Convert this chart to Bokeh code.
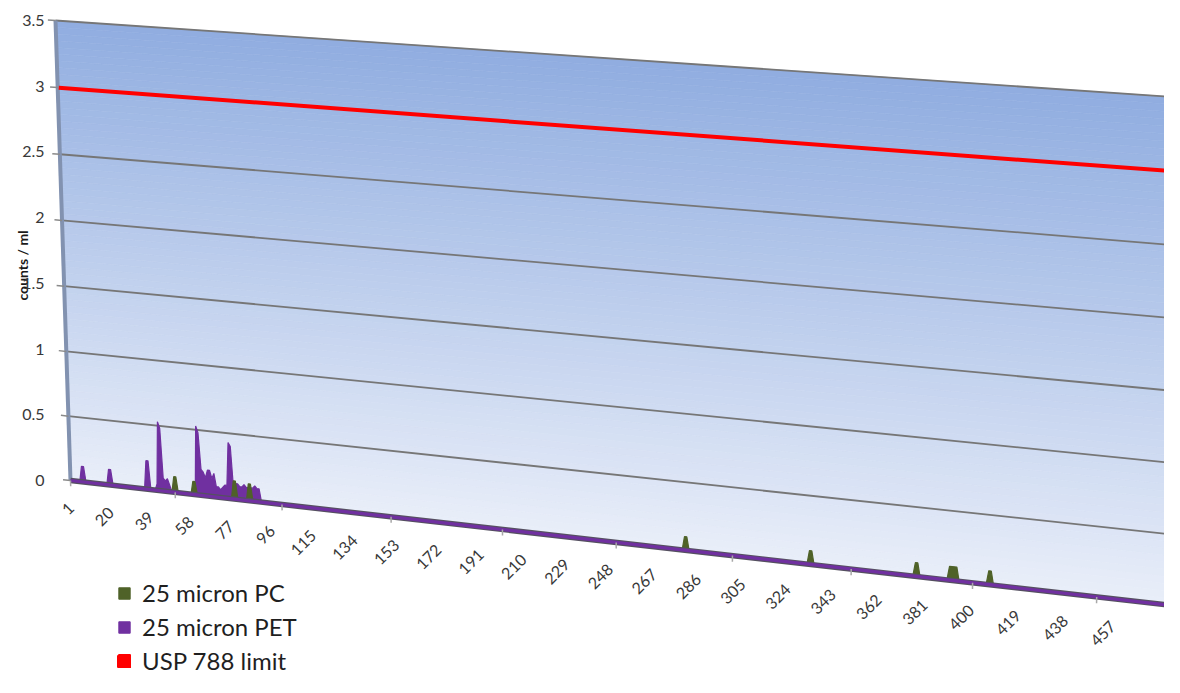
import numpy as np
from math import pi
from bokeh.plotting import figure
from bokeh.models import Range1d, FixedTicker, Legend, LegendItem
from bokeh.core.properties import value
from bokeh.embed import file_html
from bokeh.resources import INLINE

# ---------------- data ----------------
N_CATS = 480
cat_labels = [1, 20, 39, 58, 77, 96, 115, 134, 153, 172, 191, 210, 229, 248,
              267, 286, 305, 324, 343, 362, 381, 400, 419, 438, 457]
y_ticks = [0, 0.5, 1, 1.5, 2, 2.5, 3, 3.5]
y_tick_labels = ["0", "0.5", "1", "1.5", "2", "2.5", "3", "3.5"]

pet_cat = [6, 7, 19, 20, 37, 38, 42, 43, 44, 45, 46, 47, 48,
           61, 62, 63, 64, 65, 66, 67, 68, 69, 70, 71, 72, 73, 74, 75,
           76, 77, 78, 79, 80, 81, 82, 83, 84, 85, 86, 87, 88, 89, 90]
pet_val = [0.12, 0.12, 0.12, 0.12, 0.22, 0.22, 0.05, 0.53, 0.48, 0.10, 0.08, 0.10, 0.05,
           0.53, 0.48, 0.20, 0.18, 0.14, 0.20, 0.20, 0.14, 0.18, 0.08, 0.08, 0.06, 0.08, 0.10, 0.10,
           0.43, 0.40, 0.10, 0.12, 0.12, 0.10, 0.10, 0.12, 0.10, 0.10, 0.10, 0.10, 0.12, 0.10, 0.10]

pc_cat = [50, 51, 59, 60, 78, 79, 85, 86, 280, 281, 333, 334, 377, 378,
          391, 392, 393, 394, 407, 408]
pc_val = [0.12, 0.12, 0.10, 0.10, 0.14, 0.14, 0.13, 0.13, 0.10, 0.10, 0.10, 0.10, 0.10, 0.10,
          0.10, 0.10, 0.10, 0.10, 0.10, 0.10]

usp_limit = 3.0

series_names = ["25 micron PC", "25 micron PET", "USP 788 limit"]
axis_title = "counts / ml"
PC_COLOR = "#4F6228"
PET_COLOR = "#7030A0"
USP_COLOR = "#FF0000"

# ---------------- perspective (3-D wall) ----------------
V_MAX = 3.5
Y0, S = 480.0, 460.0 / 3.5          # screen y of value 0 / px per unit on the left axis
src = [(0, 0), (1, 0), (0, 1), (1, 1)]
dst = [(70, 480), (1172, 605), (55, 20), (1186, 97.4)]
A, b = [], []
for (x, y), (X, Y) in zip(src, dst):
    A.append([x, y, 1, 0, 0, 0, -X * x, -X * y]); b.append(X)
    A.append([0, 0, 0, x, y, 1, -Y * x, -Y * y]); b.append(Y)
Hm = np.append(np.linalg.solve(np.array(A, float), np.array(b, float)), 1).reshape(3, 3)


def proj(u, v):
    u = np.asarray(u, float)
    w = np.asarray(v, float) / V_MAX
    den = Hm[2, 0] * u + Hm[2, 1] * w + Hm[2, 2]
    X = (Hm[0, 0] * u + Hm[0, 1] * w + Hm[0, 2]) / den
    Y = (Hm[1, 0] * u + Hm[1, 1] * w + Hm[1, 2]) / den
    return X, (Y0 - Y) / S


def ucat(c):
    return (np.asarray(c, float) - 0.5) / N_CATS


W, H = 1164, 677
p = figure(width=W, height=H, output_backend="svg", toolbar_location=None,
           x_range=Range1d(0, W), y_range=Range1d((Y0 - H) / S, Y0 / S),
           x_axis_type=None, min_border_left=0, min_border_right=0,
           min_border_top=0, min_border_bottom=0, title=None)
p.outline_line_color = None
p.ygrid.visible = False
p.background_fill_color = "white"
p.border_fill_color = "white"

# y axis (real axis placed at the wall's left edge; ticks drawn in perspective)
ax = p.yaxis[0]
ax.fixed_location = 49
ax.ticker = FixedTicker(ticks=y_ticks)
ax.major_label_overrides = {t: l for t, l in zip(y_ticks, y_tick_labels)}
ax.axis_line_color = None
ax.major_tick_line_color = None
ax.major_tick_out = 0
ax.major_tick_in = 0
ax.minor_tick_line_color = None
ax.major_label_standoff = 5
ax.major_label_text_font = "Lato"
ax.major_label_text_font_size = "16px"
ax.major_label_text_color = "#383838"

# wall gradient bands
top_rgb = np.array([144, 173, 224])
bot_rgb = np.array([233, 238, 249])
nb = 70
bxs, bys, bcols = [], [], []
for i in range(nb):
    v0, v1 = V_MAX * i / nb, V_MAX * (i + 1) / nb
    X, Yb = proj([0, 1, 1, 0], [v0, v0, v1, v1])
    bxs.append(list(X)); bys.append(list(Yb))
    f = (i + 0.5) / nb
    c = (bot_rgb + (top_rgb - bot_rgb) * f).round().astype(int)
    bcols.append("#%02x%02x%02x" % tuple(c))
p.patches(bxs, bys, fill_color=bcols, line_color=bcols, line_width=0.6)

# gridlines + top border
gxs, gys = [], []
for v in y_ticks[1:]:
    X, Yb = proj([0, 1], [v, v])
    gxs.append(list(X)); gys.append(list(Yb))
p.multi_line(gxs, gys, line_color="#767676", line_width=1.8)

# left wall edge
X, Yb = proj([0, 0], [0, V_MAX])
p.line(X, Yb, line_color="#8292b0", line_width=4)

# y tick marks
txs, tys = [], []
for v in y_ticks:
    X, Yb = proj([-0.0075, 0], [v, v])
    txs.append(list(X)); tys.append(list(Yb))
p.multi_line(txs, tys, line_color="#8a8a8a", line_width=1.5)


def area_polys(cats, vals):
    d = dict(zip(cats, vals))
    cs = sorted(d)
    runs, cur = [], [cs[0]]
    for c in cs[1:]:
        if c == cur[-1] + 1:
            cur.append(c)
        else:
            runs.append(cur); cur = [c]
    runs.append(cur)
    xs, ys = [], []
    for r in runs:
        cc = [r[0] - 1] + r + [r[-1] + 1]
        vv = [0.0] + [d[c] for c in r] + [0.0]
        X, Yb = proj(ucat(cc), vv)
        xs.append(list(X)); ys.append(list(Yb))
    return xs, ys


assert len(pet_cat) == len(pet_val) and len(pc_cat) == len(pc_val)
xs, ys = area_polys(pet_cat, pet_val)
pet_r = p.patches(xs, ys, fill_color=PET_COLOR, line_color=PET_COLOR, line_width=1.2)
xs, ys = area_polys(pc_cat, pc_val)
pc_r = p.patches(xs, ys, fill_color=PC_COLOR, line_color=PC_COLOR, line_width=1.2)

# baseline (zero level of the series, 3-D edge)
X, Yb = proj([0, 1], [0, 0])
p.line(X, Yb, line_color="#555060", line_width=5.5)
p.line(X, Yb, line_color=PET_COLOR, line_width=3.2)

# USP limit line (drawn as a two-point patch so that its legend key is a square)
X, Yb = proj(ucat([1, N_CATS]), [usp_limit, usp_limit])
usp_r = p.patch(list(X), list(Yb), fill_color=USP_COLOR, line_color=USP_COLOR, line_width=4)

# category tick marks
tick_u = [(50 * k) / N_CATS for k in range(10)]
kxs, kys = [], []
for u in tick_u:
    X, Yb = proj([u, u], [0, -0.045])
    kxs.append(list(X)); kys.append(list(Yb))
p.multi_line(kxs, kys, line_color="#a8a8a8", line_width=1.5)

# category labels
X, Yb = proj(ucat(cat_labels), np.zeros(len(cat_labels)))
p.text(x=list(X), y=list(Yb - 25.0 / S), text=[str(c) for c in cat_labels],
       angle=pi / 4, text_align="right", text_baseline="middle",
       text_font=value("Lato"), text_font_size="16px", text_color="#383838")

# axis title
p.text(x=[22], y=[(Y0 - 300) / S], text=[axis_title], angle=pi / 2,
       text_align="left", text_baseline="middle", text_font=value("Lato"),
       text_font_size="14px", text_font_style="bold", text_color="#1a1a1a")

legend = Legend(items=[LegendItem(label=series_names[0], renderers=[pc_r]),
                       LegendItem(label=series_names[1], renderers=[pet_r]),
                       LegendItem(label=series_names[2], renderers=[usp_r])],
                location=(117, 2), orientation="vertical",
                glyph_width=14, glyph_height=14, label_height=28,
                label_text_font="Lato", label_text_font_size="24px",
                label_text_color="#1f1f1f", label_standoff=11, spacing=5,
                padding=0, margin=0, border_line_color=None, background_fill_alpha=0)
p.add_layout(legend)

open("out.html", "w").write(file_html(p, INLINE, title="chart"))
